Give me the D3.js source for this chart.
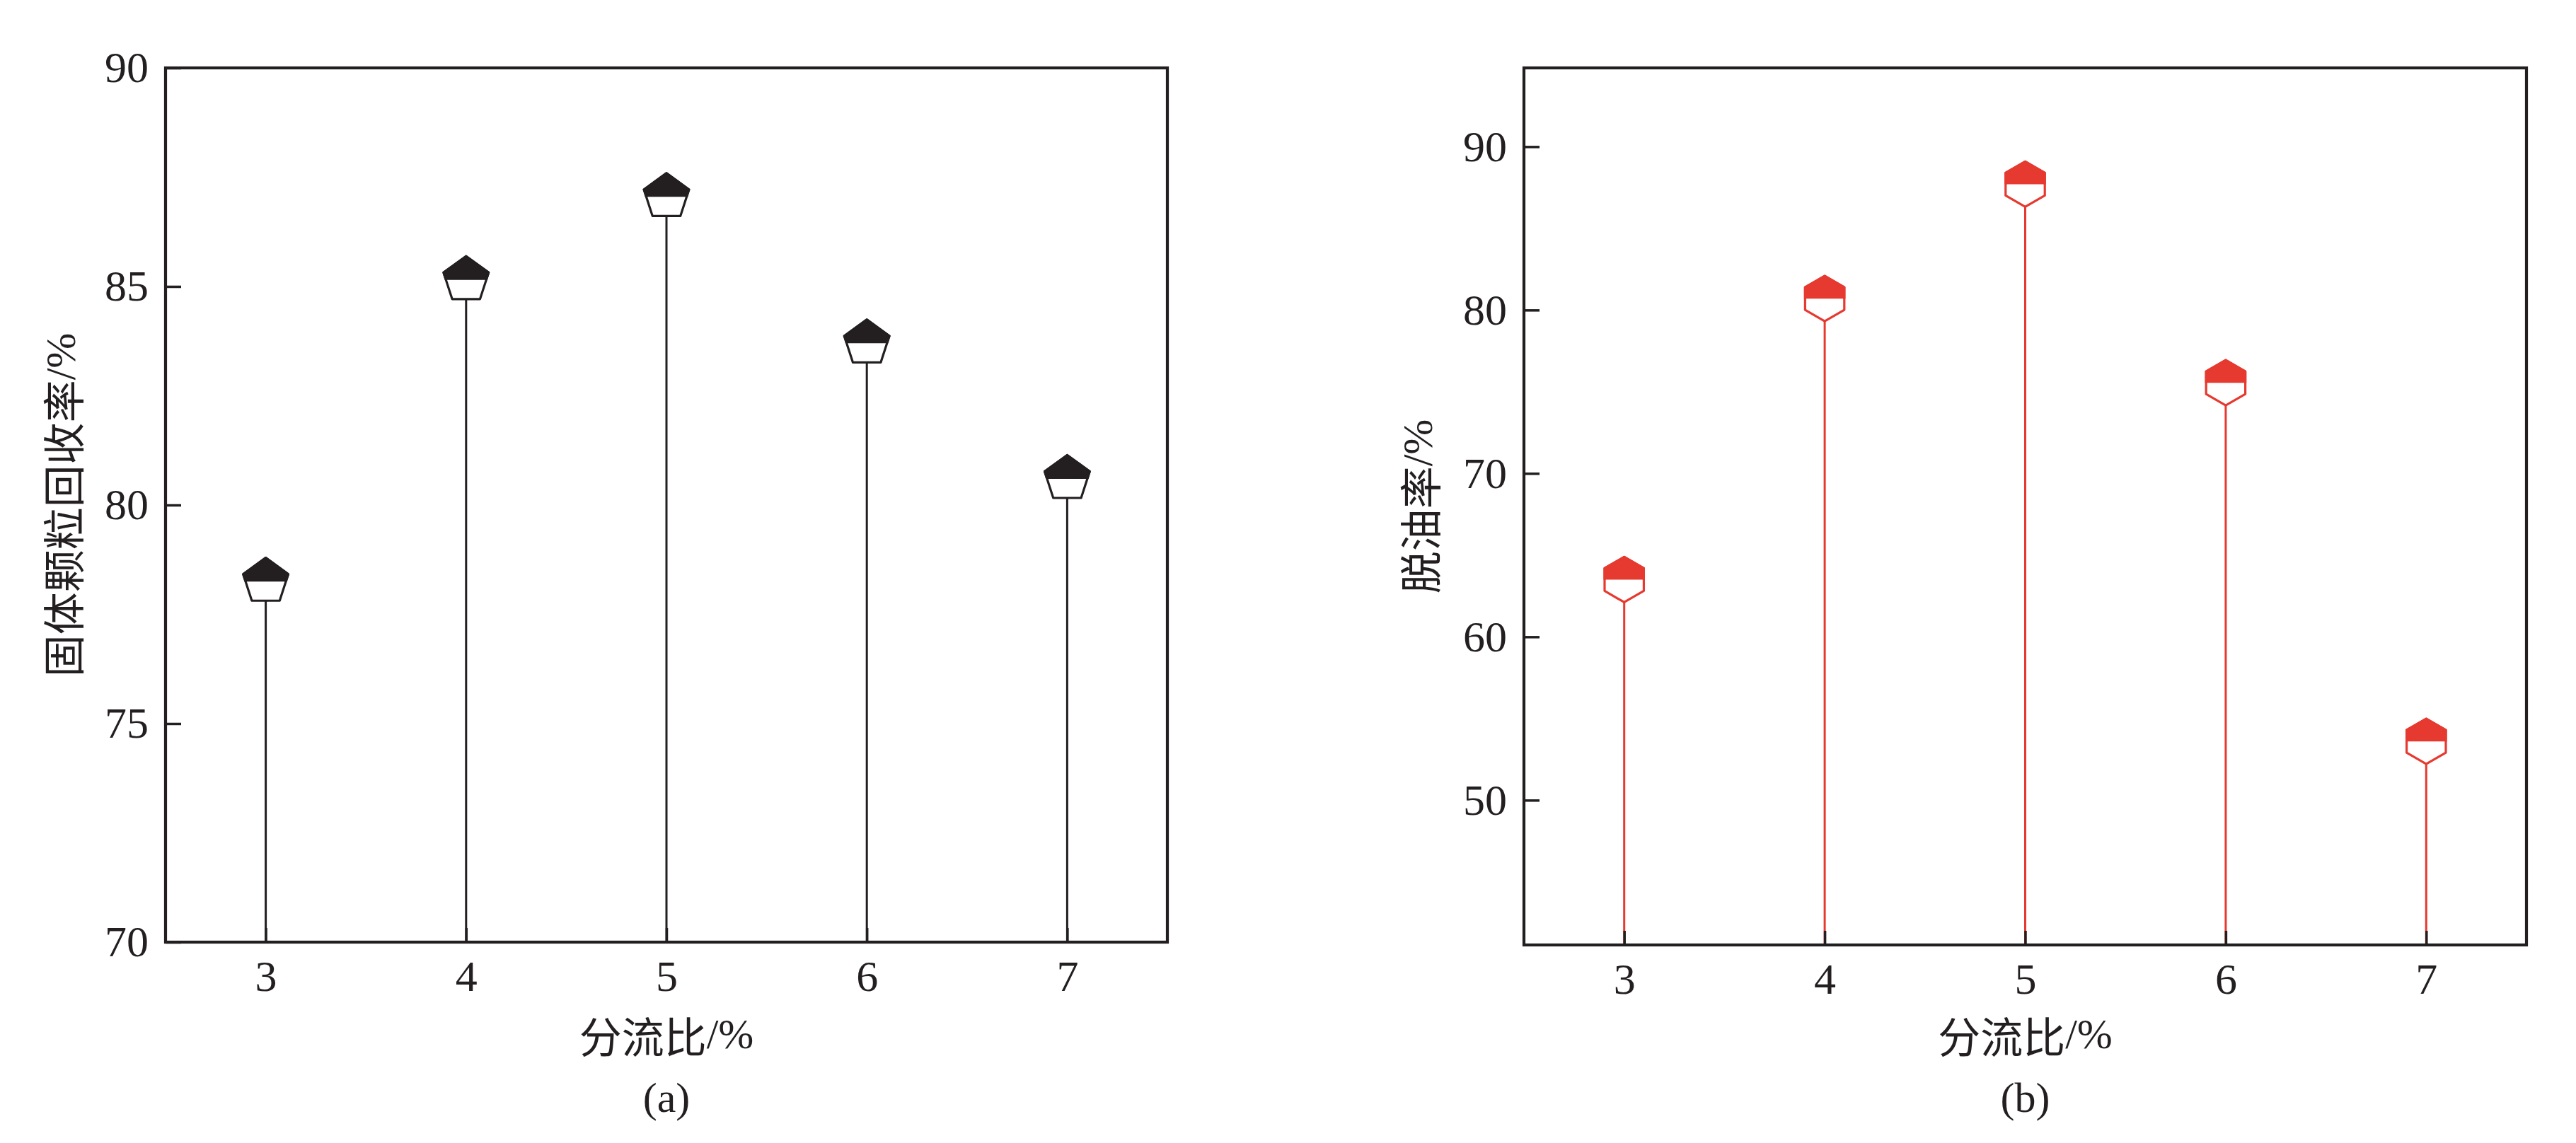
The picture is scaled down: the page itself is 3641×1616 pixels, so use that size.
<!DOCTYPE html>
<html>
<head>
<meta charset="utf-8">
<script src="https://cdn.jsdelivr.net/npm/d3@7"></script>
<style>
  html, body { margin: 0; padding: 0; background: #fff; }
  svg { display: block; }
</style>
</head>
<body>
<script>
// ---- data ----
const categories = [3, 4, 5, 6, 7];
const recoveryRate = [78.25, 85.15, 87.05, 83.7, 80.6];   // 固体颗粒回收率/%
const oilRemovalRate = [63.5, 80.7, 87.7, 75.55, 53.6];   // 脱油率/%
const xTicks = [3, 4, 5, 6, 7];
const yTicksA = [70, 75, 80, 85, 90];
const yTicksB = [50, 60, 70, 80, 90];
const xTitle = "分流比";
const yTitleA = "固体颗粒回收率";
const yTitleB = "脱油率";
const panelLabels = ["(a)", "(b)"];

const W = 3641, H = 1616;
const BLACK = "#231f20", RED = "#e6392f";
const NUM_FONT = "'Liberation Serif', 'Times New Roman', serif";
const CJK_FONT = "'Noto Sans CJK SC', 'Noto Sans', sans-serif";

const svg = d3.select("body").append("svg").attr("width", W).attr("height", H);

const panels = [
  { left: 234, right: 1650, top: 96, bottom: 1332, yDomain: [70, 90], yTicks: yTicksA,
    values: recoveryRate, color: BLACK, shape: "pentagon", R: 33.5, yTitle: yTitleA, titleX: 86, label: panelLabels[0] },
  { left: 2154, right: 3571, top: 96, bottom: 1336, yDomain: [41.14, 94.82], yTicks: yTicksB,
    values: oilRemovalRate, color: RED, shape: "hexagon", R: 32, yTitle: yTitleB, titleX: 2004, label: panelLabels[1] }
];

function polygonPoints(n, R) {
  const pts = [];
  for (let i = 0; i < n; i++) {
    const a = -Math.PI / 2 + i * 2 * Math.PI / n;
    pts.push([R * Math.cos(a), R * Math.sin(a)]);
  }
  return pts;
}

panels.forEach((p, pi) => {
  const g = svg.append("g");
  const x = d3.scaleLinear().domain([2.5, 7.5]).range([p.left, p.right]);
  const y = d3.scaleLinear().domain(p.yDomain).range([p.bottom, p.top]);
  const data = categories.map((c, i) => ({ c, v: p.values[i] }));

  // stems
  g.selectAll("line.stem").data(data).enter().append("line")
    .attr("class", "stem")
    .attr("x1", d => x(d.c)).attr("x2", d => x(d.c))
    .attr("y1", d => y(d.v)).attr("y2", p.bottom)
    .attr("stroke", p.color).attr("stroke-width", 3);

  // axes
  const yAxis = d3.axisLeft(y).tickValues(p.yTicks).tickFormat(d3.format("d"))
    .tickSizeInner(-22).tickSizeOuter(0).tickPadding(24);
  const gy = g.append("g").attr("transform", `translate(${p.left},0)`).call(yAxis);
  const xAxis = d3.axisBottom(x).tickValues(xTicks).tickFormat(d3.format("d"))
    .tickSizeInner(-20).tickSizeOuter(0).tickPadding(25);
  const gx = g.append("g").attr("transform", `translate(0,${p.bottom})`).call(xAxis);
  [gx, gy].forEach(ax => {
    ax.select(".domain").remove();
    ax.selectAll(".tick line").attr("stroke", BLACK).attr("stroke-width", 3.5);
    ax.selectAll(".tick text").attr("fill", BLACK).style("font-family", NUM_FONT).style("font-size", "62px");
  });

  // frame
  g.append("rect")
    .attr("x", p.left).attr("y", p.top)
    .attr("width", p.right - p.left).attr("height", p.bottom - p.top)
    .attr("fill", "none").attr("stroke", BLACK).attr("stroke-width", 4.2);

  // markers (half-filled top)
  const n = p.shape === "pentagon" ? 5 : 6;
  const pts = polygonPoints(n, p.R);
  const clipId = "clipTop" + pi;
  svg.append("defs").append("clipPath").attr("id", clipId)
    .append("rect").attr("x", -100).attr("y", -100).attr("width", 200).attr("height", 100);

  const m = g.selectAll("g.marker").data(data).enter().append("g")
    .attr("class", "marker")
    .attr("transform", d => `translate(${x(d.c)},${y(d.v)})`);
  m.append("polygon")
    .attr("points", pts.map(q => q.join(",")).join(" "))
    .attr("fill", "#fff").attr("stroke", p.color).attr("stroke-width", 3.2)
    .attr("stroke-linejoin", "round");
  m.append("polygon")
    .attr("points", pts.map(q => q.join(",")).join(" "))
    .attr("fill", p.color).attr("stroke", p.color).attr("stroke-width", 3.2)
    .attr("stroke-linejoin", "round")
    .attr("clip-path", `url(#${clipId})`);

  // x title
  const cx = (p.left + p.right) / 2;
  const xt = g.append("text").attr("x", cx).attr("y", 1462)
    .attr("text-anchor", "middle").attr("dominant-baseline", "central")
    .attr("fill", BLACK).style("font-size", "60px");
  xt.append("tspan").style("font-family", CJK_FONT).text(xTitle);
  xt.append("tspan").style("font-family", NUM_FONT).text("/%");

  // panel label
  g.append("text").attr("x", cx).attr("y", 1552)
    .attr("text-anchor", "middle").attr("dominant-baseline", "central")
    .attr("fill", BLACK).style("font-family", NUM_FONT).style("font-size", "60px")
    .text(p.label);

  // y title
  const cy = (p.top + p.bottom) / 2;
  const yt = g.append("text")
    .attr("transform", `translate(${p.titleX},${cy}) rotate(-90)`)
    .attr("text-anchor", "middle").attr("dominant-baseline", "central")
    .attr("fill", BLACK).style("font-size", "60px");
  yt.append("tspan").style("font-family", CJK_FONT).text(p.yTitle);
  yt.append("tspan").style("font-family", NUM_FONT).text("/%");
});
</script>
</body>
</html>
